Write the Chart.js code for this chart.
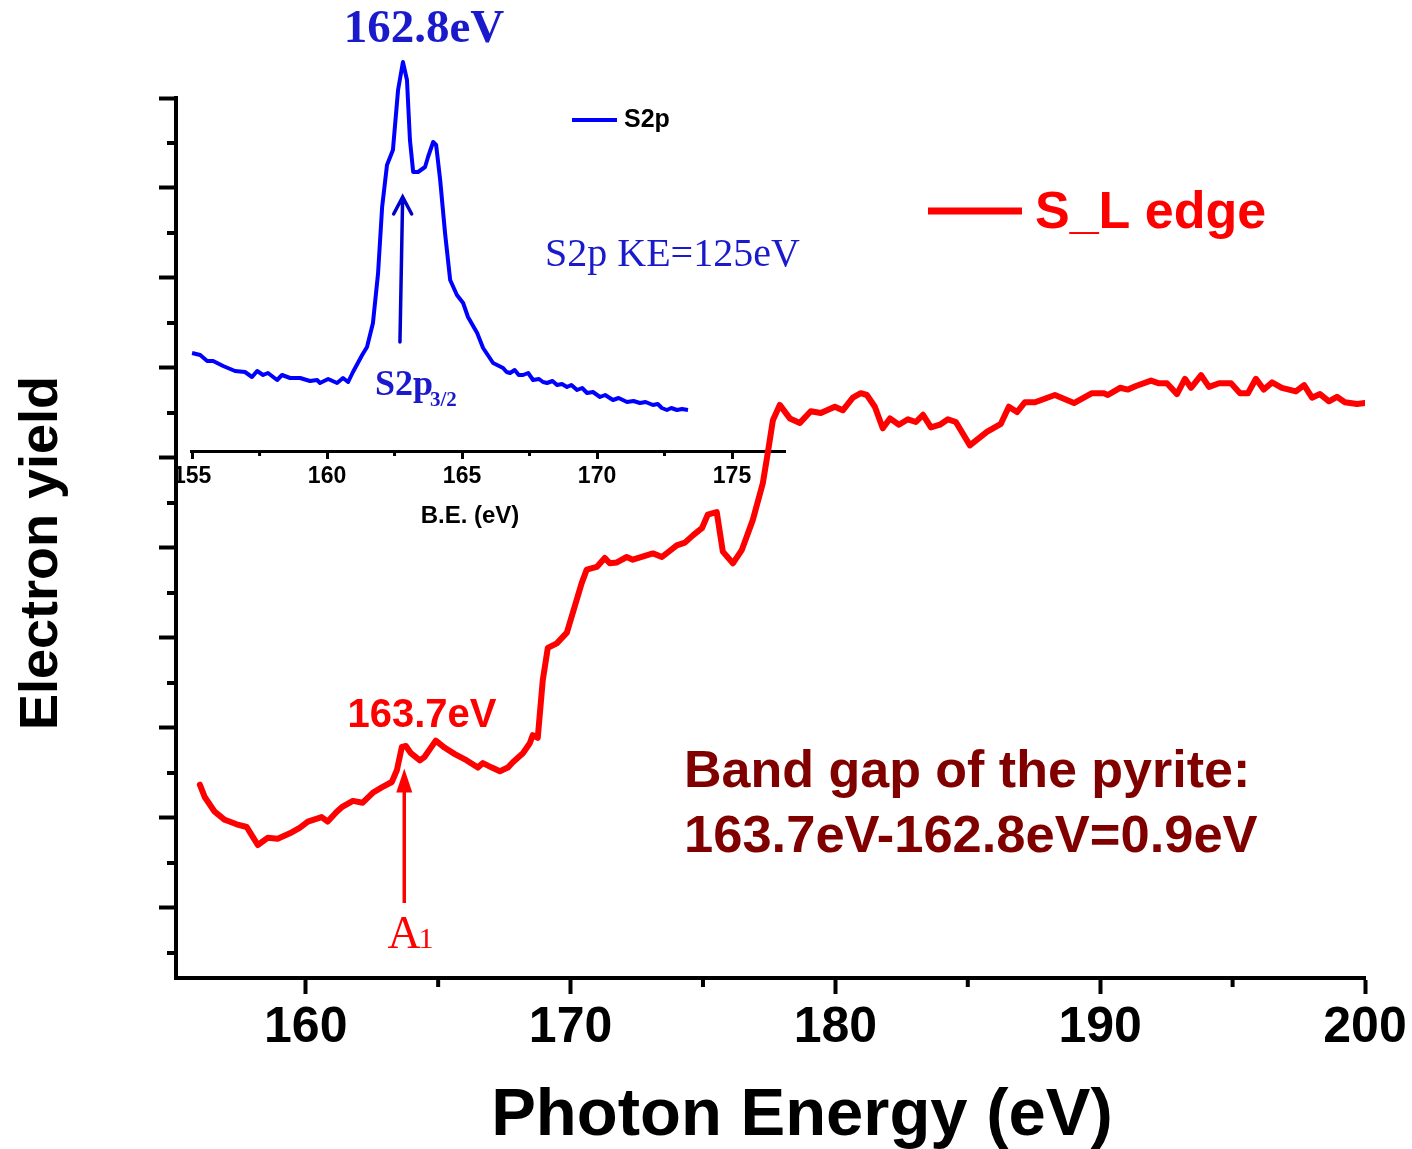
<!DOCTYPE html>
<html>
<head>
<meta charset="utf-8">
<title>S L-edge and S2p of pyrite</title>
<script src="https://cdn.jsdelivr.net/npm/chart.js@4.4.1/dist/chart.umd.min.js"></script>
<style>
  html, body { margin: 0; padding: 0; background: #ffffff; }
  #Wrap { position: relative; width: 1412px; height: 1149px; overflow: hidden; }
  #Main__Chart { position: absolute; left: 0; top: 0; z-index: 2; }
  #Inset__Chart { position: absolute; left: 161px; top: 51px; z-index: 1; }
</style>
</head>
<body>
<div id="Wrap">
  <canvas id="Inset__Chart" width="625" height="490"></canvas>
  <canvas id="Main__Chart" width="1412" height="1149"></canvas>
</div>
<script>
/* S L-edge absorption, photon energy (eV) and electron yield (arb. units) */
const photonEnergy = [
  156.00, 156.19, 156.56, 156.94, 157.39, 157.77, 158.00, 158.19, 158.56, 158.94,
  159.40, 159.77, 160.08, 160.60, 160.83, 161.17, 161.36, 161.78, 162.15, 162.53,
  162.87, 163.25, 163.44, 163.63, 163.78, 163.97, 164.31, 164.49, 164.91, 165.25,
  165.63, 166.08, 166.50, 166.69, 167.03, 167.33, 167.63, 167.82, 168.20, 168.46,
  168.57, 168.76, 168.95, 169.14, 169.48, 169.86, 170.42, 170.61, 170.99, 171.29,
  171.48, 171.75, 172.12, 172.35, 173.11, 173.45, 174.01, 174.32, 174.62, 174.96,
  175.18, 175.52, 175.75, 176.13, 176.47, 176.88, 177.26, 177.45, 177.64, 177.90,
  178.28, 178.66, 179.07, 179.45, 179.98, 180.28, 180.66, 180.96, 181.19, 181.49,
  181.79, 182.06, 182.40, 182.74, 183.04, 183.31, 183.61, 183.95, 184.25, 184.55,
  185.08, 185.72, 186.25, 186.55, 186.86, 187.16, 187.54, 188.29, 189.01, 189.69,
  190.14, 190.29, 190.75, 191.05, 191.35, 191.92, 192.22, 192.52, 192.90, 193.20,
  193.43, 193.81, 194.11, 194.49, 194.94, 195.28, 195.58, 195.88, 196.18, 196.49,
  196.86, 197.39, 197.70, 198.00, 198.30, 198.64, 198.94, 199.24, 199.70, 200.00
];
const electronYield = [
  2.37, 2.23, 2.07, 1.98, 1.93, 1.90, 1.79, 1.70, 1.78, 1.77,
  1.83, 1.89, 1.96, 2.01, 1.96, 2.07, 2.12, 2.19, 2.17, 2.28,
  2.34, 2.40, 2.53, 2.79, 2.80, 2.72, 2.64, 2.68, 2.86, 2.78,
  2.71, 2.64, 2.56, 2.61, 2.56, 2.52, 2.56, 2.62, 2.72, 2.83,
  2.92, 2.89, 3.53, 3.89, 3.94, 4.06, 4.61, 4.76, 4.79, 4.89,
  4.83, 4.84, 4.90, 4.87, 4.94, 4.90, 5.03, 5.06, 5.14, 5.22,
  5.37, 5.40, 4.96, 4.83, 4.98, 5.31, 5.72, 6.06, 6.42, 6.59,
  6.44, 6.39, 6.52, 6.50, 6.57, 6.53, 6.67, 6.72, 6.70, 6.57,
  6.33, 6.44, 6.37, 6.43, 6.40, 6.48, 6.34, 6.37, 6.43, 6.40,
  6.14, 6.29, 6.38, 6.57, 6.51, 6.62, 6.62, 6.70, 6.61, 6.72,
  6.72, 6.70, 6.78, 6.76, 6.80, 6.86, 6.83, 6.83, 6.71, 6.88,
  6.78, 6.92, 6.79, 6.83, 6.83, 6.72, 6.72, 6.88, 6.76, 6.84,
  6.78, 6.74, 6.81, 6.67, 6.71, 6.63, 6.68, 6.62, 6.60, 6.61
];

/* Inset: S2p photoemission, binding energy (eV) and intensity (arb. units) */
const bindingEnergy = [
  155.00, 155.30, 155.56, 155.78, 156.15, 156.59, 156.96, 157.22, 157.41, 157.63,
  157.81, 158.15, 158.33, 158.63, 159.00, 159.37, 159.63, 159.74, 160.04, 160.37,
  160.59, 160.78, 160.96, 161.30, 161.48, 161.70, 161.89, 162.04, 162.22, 162.44,
  162.63, 162.81, 162.96, 163.07, 163.19, 163.37, 163.63, 163.74, 163.93, 164.04,
  164.19, 164.37, 164.56, 164.81, 165.04, 165.22, 165.56, 165.78, 166.15, 166.52,
  166.65, 166.78, 166.95, 167.10, 167.26, 167.45, 167.63, 167.85, 168.00, 168.15,
  168.35, 168.52, 168.70, 168.89, 169.05, 169.26, 169.45, 169.63, 169.85, 170.11,
  170.30, 170.59, 170.80, 171.11, 171.35, 171.59, 171.80, 172.07, 172.25, 172.40,
  172.59, 172.75, 172.96, 173.15, 173.37
];
const s2pIntensity = [
  9.8, 9.6, 9.0, 9.0, 8.5, 8.0, 7.9, 7.4, 8.0, 7.6,
  7.8, 7.1, 7.6, 7.3, 7.3, 7.0, 7.1, 6.8, 7.2, 6.8,
  7.3, 6.9, 7.9, 9.6, 10.4, 12.8, 17.8, 24.4, 28.6, 30.1,
  36.1, 38.9, 37.1, 31.1, 27.9, 27.9, 28.4, 29.4, 30.9, 30.6,
  27.1, 21.8, 17.1, 15.6, 14.8, 13.4, 11.8, 10.3, 8.8, 8.3,
  7.9, 7.8, 8.1, 7.6, 7.6, 7.8, 7.1, 7.2, 6.9, 6.8,
  7.0, 6.6, 6.7, 6.4, 6.6, 6.1, 6.3, 5.8, 5.9, 5.4,
  5.6, 5.1, 5.3, 4.9, 5.0, 4.8, 4.9, 4.6, 4.7, 4.3,
  4.1, 4.3, 4.1, 4.2, 4.1
];

/* tick values */
const photonTicks = [160, 170, 180, 190, 200];
const photonMinorTicks = [165, 175, 185, 195];
const yieldTicks = [1, 2, 3, 4, 5, 6, 7, 8, 9, 10];
const yieldMinorTicks = [0.5, 1.5, 2.5, 3.5, 4.5, 5.5, 6.5, 7.5, 8.5, 9.5];
const bindingTicks = [155, 160, 165, 170, 175];
const bindingMinorTicks = [157.5, 162.5, 167.5, 172.5];

const SANS = "'Liberation Sans', Arial, sans-serif";
const SERIF = "'Liberation Serif', 'Times New Roman', serif";
const INSET_LEFT = 161;
const INSET_TOP = 51;

/**
 * Builds a plugin that draws the short minor ticks on the outside of the axes
 */
function MinorTicks(xMinor, yMinor, length, width){
  return {
    id: 'minorTicks',
    afterDraw(chart){
      const {ctx, chartArea, scales} = chart;
      ctx.save();
      ctx.strokeStyle = '#000';
      ctx.lineWidth = width;
      ctx.beginPath();
      xMinor.forEach(v => {
        const px = scales.x.getPixelForValue(v);
        ctx.moveTo(px, chartArea.bottom);
        ctx.lineTo(px, chartArea.bottom + length);
      });
      yMinor.forEach(v => {
        const py = scales.y.getPixelForValue(v);
        ctx.moveTo(chartArea.left - length, py);
        ctx.lineTo(chartArea.left, py);
      });
      ctx.stroke();
      ctx.restore();
    }
  };
}

function drawText(ctx, text, x, y, font, color, align){
  ctx.font = font;
  ctx.fillStyle = color;
  ctx.textAlign = align || 'left';
  ctx.textBaseline = 'alphabetic';
  ctx.fillText(text, x, y);
}

/*Inset chart (S2p)*/
const insetChart = new Chart(document.getElementById('Inset__Chart'), {
  type: 'line',
  data: {
    datasets: [{
      label: 'S2p',
      data: bindingEnergy.map((e, i) => ({x: e, y: s2pIntensity[i]})),
      borderColor: '#0000ff',
      borderWidth: 4,
      pointRadius: 0,
      tension: 0,
      borderJoinStyle: 'round'
    }]
  },
  options: {
    responsive: false,
    animation: false,
    layout: { padding: { left: 30, top: 0, right: 0, bottom: 0 } },
    plugins: { legend: { display: false }, tooltip: { enabled: false } },
    scales: {
      x: {
        type: 'linear', min: 154.96, max: 177.0,
        afterFit: s => { s.height = 90; },
        afterBuildTicks: s => { s.ticks = bindingTicks.map(v => ({value: v})); },
        grid: { drawOnChartArea: false, tickLength: 8, tickWidth: 3, tickColor: '#000' },
        border: { width: 3, color: '#000' },
        ticks: { font: { family: SANS, size: 23, weight: 'bold' }, color: '#000', padding: 4, maxRotation: 0, autoSkip: false }
      },
      y: { display: false, min: 0, max: 40 }
    }
  },
  plugins: [MinorTicks(bindingMinorTicks, [], 5, 3)]
});

/* texts, legends and arrows */
const Decorations = {
  id: 'decorations',
  afterDraw(chart){
    const ctx = chart.ctx;
    const xs = chart.scales.x, ys = chart.scales.y;
    ctx.save();

    /*axis titles*/
    drawText(ctx, 'Photon Energy (eV)', 802, 1135, 'bold 67px ' + SANS, '#000', 'center');
    ctx.save();
    ctx.translate(57, 553);
    ctx.rotate(-Math.PI / 2);
    drawText(ctx, 'Electron yield', 0, 0, 'bold 54px ' + SANS, '#000', 'center');
    ctx.restore();
    drawText(ctx, 'B.E. (eV)', 470, 523, 'bold 24px ' + SANS, '#000', 'center');

    /*legends*/
    ctx.lineCap = 'butt';
    ctx.strokeStyle = '#0000ff';
    ctx.lineWidth = 4;
    ctx.beginPath(); ctx.moveTo(572, 120); ctx.lineTo(617, 120); ctx.stroke();
    drawText(ctx, 'S2p', 624, 127, 'bold 25px ' + SANS, '#000');
    ctx.strokeStyle = '#ff0000';
    ctx.lineWidth = 7;
    ctx.beginPath(); ctx.moveTo(928, 211); ctx.lineTo(1022, 211); ctx.stroke();
    drawText(ctx, 'S_L edge', 1035, 228, 'bold 52px ' + SANS, '#ff0000');

    /*blue annotations*/
    const blue = '#1a1acc';
    drawText(ctx, '162.8eV', 424, 42, 'bold 47px ' + SERIF, blue, 'center');
    drawText(ctx, 'S2p KE=125eV', 545, 266, '40px ' + SERIF, blue);
    drawText(ctx, 'S2p', 375, 395, 'bold 36px ' + SERIF, blue);
    drawText(ctx, '3/2', 430, 406, 'bold 21px ' + SERIF, blue);

    const ix = insetChart.scales.x, iy = insetChart.scales.y;
    const tipX = INSET_LEFT + ix.getPixelForValue(162.8);
    const tipY = INSET_TOP + iy.getPixelForValue(25.4);
    const baseX = INSET_LEFT + ix.getPixelForValue(162.7);
    const baseY = INSET_TOP + iy.getPixelForValue(10.9);
    ctx.strokeStyle = '#0000cc';
    ctx.lineWidth = 3.5;
    ctx.lineCap = 'round';
    ctx.beginPath();
    ctx.moveTo(baseX, baseY); ctx.lineTo(tipX, tipY);
    ctx.moveTo(tipX - 9, tipY + 17); ctx.lineTo(tipX, tipY); ctx.lineTo(tipX + 9, tipY + 17);
    ctx.stroke();

    /*red annotations*/
    drawText(ctx, '163.7eV', 422, 727, 'bold 40px ' + SANS, '#ff0000', 'center');
    const ax = xs.getPixelForValue(163.72);
    const aTop = ys.getPixelForValue(2.55);
    ctx.strokeStyle = '#ff0000';
    ctx.fillStyle = '#ff0000';
    ctx.lineWidth = 3.5;
    ctx.lineCap = 'butt';
    ctx.beginPath(); ctx.moveTo(ax, 903); ctx.lineTo(ax, aTop + 20); ctx.stroke();
    ctx.beginPath();
    ctx.moveTo(ax, aTop); ctx.lineTo(ax - 8, aTop + 24); ctx.lineTo(ax + 8, aTop + 24);
    ctx.closePath(); ctx.fill();
    drawText(ctx, 'A', 404, 948, '46px ' + SERIF, '#ff0000', 'center');
    drawText(ctx, '1', 426, 948, '30px ' + SERIF, '#ff0000', 'center');

    /*band gap text*/
    drawText(ctx, 'Band gap of the pyrite:', 684, 787, 'bold 52px ' + SANS, '#800000');
    drawText(ctx, '163.7eV-162.8eV=0.9eV', 684, 852, 'bold 52.5px ' + SANS, '#800000');

    ctx.restore();
  }
};

/*Main chart (S L-edge)*/
const mainChart = new Chart(document.getElementById('Main__Chart'), {
  type: 'line',
  data: {
    datasets: [{
      label: 'S_L edge',
      data: photonEnergy.map((e, i) => ({x: e, y: electronYield[i]})),
      borderColor: '#ff0000',
      borderWidth: 6,
      pointRadius: 0,
      tension: 0,
      borderJoinStyle: 'round',
      borderCapStyle: 'round'
    }]
  },
  options: {
    responsive: false,
    animation: false,
    layout: { padding: { left: 0, top: 98, right: 47, bottom: 0 } },
    plugins: { legend: { display: false }, tooltip: { enabled: false } },
    scales: {
      x: {
        type: 'linear', min: 155.1, max: 200,
        afterFit: s => { s.height = 171; },
        afterBuildTicks: s => { s.ticks = photonTicks.map(v => ({value: v})); },
        grid: { drawOnChartArea: false, tickLength: 16, tickWidth: 4, tickColor: '#000' },
        border: { width: 4, color: '#000' },
        ticks: { font: { family: SANS, size: 50, weight: 'bold' }, color: '#000', padding: 4, maxRotation: 0, autoSkip: false }
      },
      y: {
        type: 'linear', min: 0.2222, max: 10,
        afterFit: s => { s.width = 176; },
        afterBuildTicks: s => { s.ticks = yieldTicks.map(v => ({value: v})); },
        grid: { drawOnChartArea: false, tickLength: 17, tickWidth: 4, tickColor: '#000' },
        border: { width: 4, color: '#000' },
        ticks: { display: false }
      }
    }
  },
  plugins: [MinorTicks(photonMinorTicks, yieldMinorTicks, 9, 4), Decorations]
});
</script>
</body>
</html>
